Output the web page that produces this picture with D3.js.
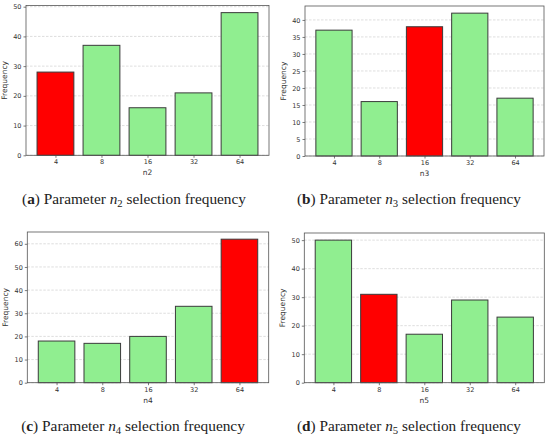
<!DOCTYPE html>
<html>
<head>
<meta charset="utf-8">
<script src="https://cdn.jsdelivr.net/npm/d3@7"></script>
<style>
  body { margin: 0; background: #fff; }
  svg { display: block; }
  .tick text { font-family: "DejaVu Sans", sans-serif; fill: #333; }
</style>
</head>
<body>
<div id="chart"></div>
<script>
// chart values
let categories = ["4", "8", "16", "32", "64"];
let n2Freq = [28, 37, 16, 21, 48];
let n3Freq = [37, 16, 38, 42, 17];
let n4Freq = [18, 17, 20, 33, 62];
let n5Freq = [50, 31, 17, 29, 23];
let bestIndex = [0, 2, 4, 1];
let yTicksA = [0, 10, 20, 30, 40, 50];
let yTicksB = [0, 5, 10, 15, 20, 25, 30, 35, 40];
let yTicksC = [0, 10, 20, 30, 40, 50, 60];
let yTicksD = [0, 10, 20, 30, 40, 50];
let panelLetters = ["a", "b", "c", "d"];
let paramNames = ["n2", "n3", "n4", "n5"];

let svg = d3.select("#chart")
  .append("svg")
    .attr("width", 550)
    .attr("height", 437);

// plot rectangles of each panel, and caption centre
let panels = [
  {vals: n2Freq, ticks: yTicksA, left: 26, right: 269, top: 5.5, bottom: 155.3, capX: 134, capY: 204},
  {vals: n3Freq, ticks: yTicksB, left: 305, right: 544, top: 6, bottom: 156, capX: 409, capY: 204},
  {vals: n4Freq, ticks: yTicksC, left: 27.3, right: 268.7, top: 232, bottom: 382.7, capX: 133, capY: 431},
  {vals: n5Freq, ticks: yTicksD, left: 304.3, right: 544.3, top: 233, bottom: 382.7, capX: 409, capY: 431}
];

panels.forEach(function (p, k) {
  let g = svg.append("g");

  // matplotlib style limits: 5% margins
  let x = d3.scaleLinear()
    .domain([-0.64, 4.64])
    .range([p.left, p.right]);
  let y = d3.scaleLinear()
    .domain([0, d3.max(p.vals) * 1.05])
    .range([p.bottom, p.top]);

  // dashed grid
  g.append("g")
    .selectAll("line")
    .data(p.ticks)
    .enter()
    .append("line")
      .attr("x1", p.left)
      .attr("x2", p.right)
      .attr("y1", d => y(d))
      .attr("y2", d => y(d))
      .style("stroke", "#d0d0d0")
      .style("stroke-width", 0.7)
      .style("stroke-dasharray", "2.5,1.5");

  // bars
  g.append("g")
    .selectAll("rect")
    .data(p.vals)
    .enter()
    .append("rect")
      .attr("x", (d, i) => x(i - 0.4))
      .attr("width", x(0.4) - x(-0.4))
      .attr("y", d => y(d))
      .attr("height", d => p.bottom - y(d))
      .style("fill", (d, i) => i === bestIndex[k] ? "#ff0000" : "#90ee90")
      .style("stroke", "#3a3a3a")
      .style("stroke-width", 1);

  // axes
  let xAxis = g.append("g")
    .attr("transform", "translate(0," + p.bottom + ")")
    .call(d3.axisBottom(x)
      .tickValues(d3.range(categories.length))
      .tickFormat(i => categories[i])
      .tickSize(2.5)
      .tickPadding(2));
  let yAxis = g.append("g")
    .attr("transform", "translate(" + p.left + ",0)")
    .call(d3.axisLeft(y)
      .tickValues(p.ticks)
      .tickSize(2.5)
      .tickPadding(2));
  [xAxis, yAxis].forEach(function (a) {
    a.select(".domain").remove();
    a.selectAll(".tick line").style("stroke", "#444").style("stroke-width", 0.7);
    a.selectAll(".tick text").style("font-size", "6.5px");
  });

  // frame
  g.append("rect")
    .attr("x", p.left)
    .attr("y", p.top)
    .attr("width", p.right - p.left)
    .attr("height", p.bottom - p.top)
    .style("fill", "none")
    .style("stroke", "#555")
    .style("stroke-width", 0.8);

  // axis labels
  g.append("text")
    .attr("x", (p.left + p.right) / 2)
    .attr("y", p.bottom + 20)
    .attr("text-anchor", "middle")
    .style("font-family", "DejaVu Sans, sans-serif")
    .style("font-size", "7.5px")
    .style("fill", "#333")
    .text(paramNames[k]);
  g.append("text")
    .attr("transform", "translate(" + (p.left - 19) + "," + ((p.top + p.bottom) / 2) + ") rotate(-90)")
    .attr("text-anchor", "middle")
    .style("font-family", "DejaVu Sans, sans-serif")
    .style("font-size", "7.5px")
    .style("fill", "#333")
    .text("Frequency");

  // caption (Palatino-like width: stretch to about 224px)
  let capG = g.append("g")
    .attr("transform", "translate(" + p.capX + "," + p.capY + ")");
  let cap = capG.append("text")
    .attr("text-anchor", "middle")
    .style("font-family", "Liberation Serif, serif")
    .style("font-size", "15px")
    .style("fill", "#222");
  cap.append("tspan").text("(");
  cap.append("tspan").style("font-weight", "bold").text(panelLetters[k]);
  cap.append("tspan").text(") Parameter ");
  cap.append("tspan").style("font-style", "italic").text("n");
  cap.append("tspan").attr("dy", 3).style("font-size", "10.5px").text(paramNames[k].slice(1));
  cap.append("tspan").attr("dy", -3).text(" selection frequency");
  let w = cap.node().getComputedTextLength();
  cap.attr("transform", "scale(" + (224 / w) + ",1)");
});
</script>
</body>
</html>
